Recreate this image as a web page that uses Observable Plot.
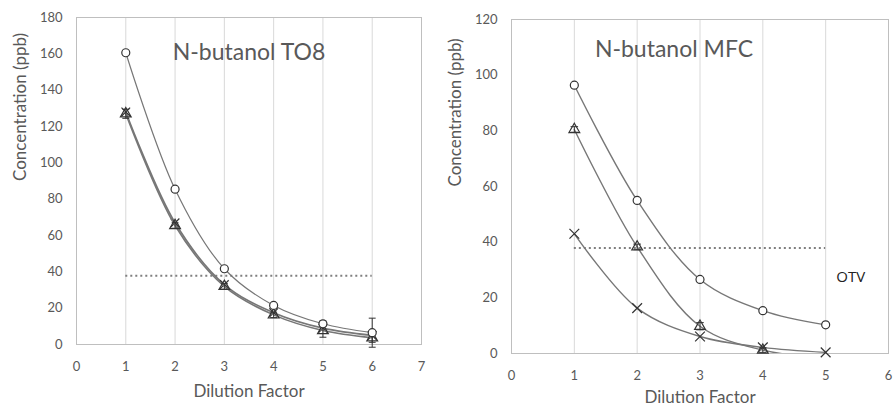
<!DOCTYPE html>
<html>
<head>
<meta charset="utf-8">
<script src="https://cdn.jsdelivr.net/npm/d3@7"></script>
<script src="https://cdn.jsdelivr.net/npm/@observablehq/plot@0.6"></script>
<style>
  body { margin: 0; background: #fff; }
  #wrap { display: flex; width: 894px; height: 406px; }
  svg { font-family: Lato, "Open Sans", sans-serif; }
</style>
</head>
<body>
<div id="wrap"></div>
<script>
// ---- Left panel: N-butanol TO8 ----
const leftTitle = "N-butanol TO8";
const leftX = [1, 2, 3, 4, 5, 6];
const leftCircle = [160.6, 85.5, 41.7, 21.5, 11.4, 6.5];
const leftCircleErr = [0.8, 0.8, 0.8, 1, 1.5, 8];
const leftTriangle = [127, 65.5, 32, 16.3, 7.7, 3.7];
const leftTriangleErr = [2.5, 1.5, 1.5, 1.5, 3.7, 2.5];
const leftCross = [128, 67, 33, 17.5, 9, 5];
const leftXTicks = [0, 1, 2, 3, 4, 5, 6, 7];
const leftYTicks = [0, 20, 40, 60, 80, 100, 120, 140, 160, 180];
const leftOtv = {value: 37.8, from: 1, to: 6};

// ---- Right panel: N-butanol MFC ----
const rightTitle = "N-butanol MFC";
const rightX = [1, 2, 3, 4, 5];
const rightCircle = [96.4, 55, 26.6, 15.4, 10.3];
const rightTriangle = [80.5, 38.3, 9.8, 1.2, -1.5];
const rightTriangleErr = [1, 1, 1.3, 0.8, 0];
const rightCross = [43, 16.3, 6.1, 2.2, 0.4];
const rightXTicks = [0, 1, 2, 3, 4, 5, 6];
const rightYTicks = [0, 20, 40, 60, 80, 100, 120];
const rightOtv = {value: 37.9, from: 1, to: 5};
const rightOtvLabel = [{x: 5.4, y: 27.4, text: "OTV"}];

const xLabel = "Dilution Factor";
const yLabel = "Concentration (ppb)";

const lineColor = "#777777";
const markColor = "#333333";
const textColor = "#595959";

function rows(xs, ys, errs) {
  return xs.map((x, i) => ({x, y: ys[i], e: errs ? errs[i] : 0}));
}

function panel(cfg) {
  const series = cfg.series;
  const marks = [
    Plot.gridX(cfg.xTicks.slice(1, -1), {stroke: "#d9d9d9", strokeOpacity: 1}),
    Plot.frame({stroke: "#bfbfbf"}),
    Plot.axisX({ticks: cfg.xTicks, tickFormat: "d", tickSize: 0, tickPadding: 17, fontSize: 13, fill: textColor, label: null}),
    Plot.axisY({ticks: cfg.yTicks, tickFormat: "d", tickSize: 0, tickPadding: 14, fontSize: 13, fill: textColor, label: null}),
    Plot.text([xLabel], {frameAnchor: "bottom", dy: cfg.xLabelDy, fontSize: 17, fill: textColor}),
    Plot.text([yLabel], {frameAnchor: "left", rotate: -90, dx: cfg.yLabelDx, fontSize: 17, fill: textColor}),
    Plot.ruleY([cfg.otv], {y: "value", x1: "from", x2: "to", stroke: "#7f7f7f", strokeWidth: 2, strokeDasharray: "2,3"})
  ];
  for (const s of series) {
    const data = rows(cfg.x, s.y, s.err);
    marks.push(Plot.line(data, {x: "x", y: "y", curve: "catmull-rom", stroke: lineColor, strokeWidth: s.w || 1.4, clip: true}));
    if (s.err) {
      const ed = data.filter(d => d.e > 0);
      marks.push(Plot.link(ed, {x1: "x", x2: "x", y1: d => d.y - d.e, y2: d => d.y + d.e, stroke: markColor, strokeWidth: 1}));
      marks.push(Plot.link(ed, {x1: d => d.x - cfg.cap, x2: d => d.x + cfg.cap, y1: d => d.y - d.e, y2: d => d.y - d.e, stroke: markColor, strokeWidth: 1}));
      marks.push(Plot.link(ed, {x1: d => d.x - cfg.cap, x2: d => d.x + cfg.cap, y1: d => d.y + d.e, y2: d => d.y + d.e, stroke: markColor, strokeWidth: 1}));
    }
    marks.push(Plot.dot(data.filter(d => d.y >= 0), {x: "x", y: "y", symbol: s.symbol, r: s.r || 4, stroke: markColor, fill: s.symbol === "circle" ? "white" : "none", strokeWidth: 1.2}));
  }
  marks.push(Plot.text([cfg.title], {frameAnchor: "top", dx: cfg.titleDx, dy: cfg.titleDy, fontSize: 23, fill: textColor}));
  if (cfg.labels) marks.push(Plot.text(cfg.labels, {x: "x", y: "y", text: "text", fontSize: 15, fill: "#222", fontFamily: "'Open Sans', sans-serif"}));
  return Plot.plot({
    width: cfg.width, height: 406,
    marginLeft: cfg.ml, marginRight: cfg.mr, marginTop: cfg.mt, marginBottom: cfg.mb,
    x: {domain: [cfg.xTicks[0], cfg.xTicks[cfg.xTicks.length - 1]]},
    y: {domain: [cfg.yTicks[0], cfg.yTicks[cfg.yTicks.length - 1]]},
    style: {fontFamily: "Lato, 'Open Sans', sans-serif", color: textColor, background: "white", overflow: "visible"},
    marks
  });
}

const left = panel({
  width: 440, ml: 76, mr: 19, mt: 17, mb: 62,
  x: leftX, xTicks: leftXTicks, yTicks: leftYTicks, otv: leftOtv, cap: 0.07,
  title: leftTitle, titleDx: 0, titleDy: 26, xLabelDy: 52, yLabelDx: -56,
  series: [
    {y: leftCross, symbol: "times", w: 1.6},
    {y: leftTriangle, err: leftTriangleErr, symbol: "triangle", w: 1.6},
    {y: leftCircle, err: leftCircleErr, symbol: "circle", w: 1.2}
  ]
});
const right = panel({
  width: 454, ml: 71, mr: 6, mt: 19, mb: 53,
  x: rightX, xTicks: rightXTicks, yTicks: rightYTicks, otv: rightOtv, cap: 0.06,
  title: rightTitle, titleDx: -26, titleDy: 21, xLabelDy: 49, yLabelDx: -56,
  labels: rightOtvLabel,
  series: [
    {y: rightCross, symbol: "times", w: 1.4, r: 4.5},
    {y: rightTriangle, err: rightTriangleErr, symbol: "triangle", w: 1.4},
    {y: rightCircle, symbol: "circle", w: 1.4}
  ]
});
document.getElementById("wrap").append(left, right);
</script>
</body>
</html>
